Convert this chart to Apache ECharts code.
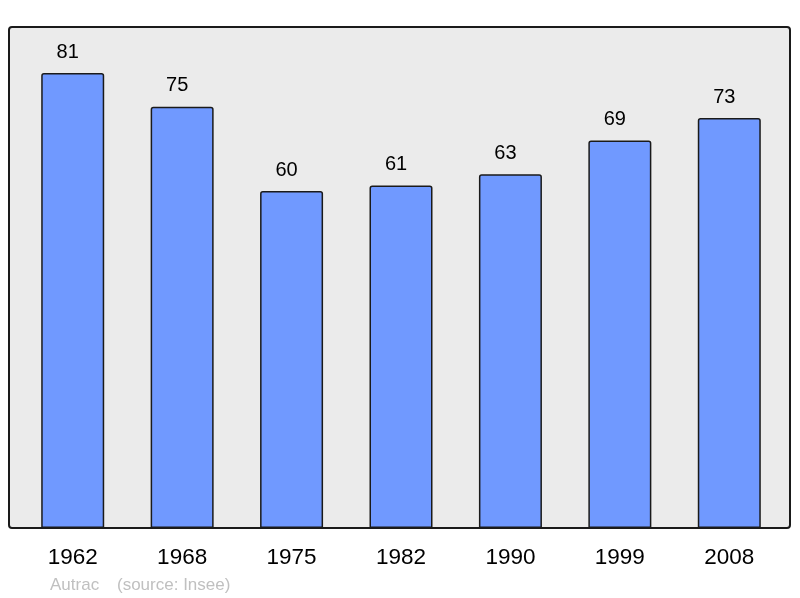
<!DOCTYPE html>
<html>
<head>
<meta charset="utf-8">
<script src="https://cdn.jsdelivr.net/npm/echarts@6/dist/echarts.min.js"></script>
<style>
  html, body { margin: 0; padding: 0; background: #ffffff; }
  #chart { width: 800px; height: 598px; }
</style>
</head>
<body>
<div id="chart"></div>
<script>
// data
var years = ['1962', '1968', '1975', '1982', '1990', '1999', '2008'];
var population = [81, 75, 60, 61, 63, 69, 73];

document.addEventListener("DOMContentLoaded", function() {
    var chart = echarts.init(document.getElementById('chart'));
    var option = {
        animation: false,
        textStyle: { fontFamily: 'Liberation Sans, Arial, sans-serif' },
        graphic: [
            {
                // frame of the plot area
                type: 'rect',
                z: -1,
                shape: { x: 9, y: 27, width: 781, height: 501, r: 3 },
                style: { fill: '#ebebeb', stroke: '#1a1a1a', lineWidth: 2 }
            },
            {
                type: 'text',
                left: 50,
                top: 577,
                style: {
                    text: 'Autrac',
                    fill: '#c0c0c0',
                    font: '17px Liberation Sans, Arial, sans-serif'
                }
            },
            {
                type: 'text',
                left: 117,
                top: 577,
                style: {
                    text: '(source: Insee)',
                    fill: '#c0c0c0',
                    font: '17px Liberation Sans, Arial, sans-serif'
                }
            }
        ],
        grid: {
            left: 18,
            right: 16,
            top: 27,
            bottom: 70
        },
        xAxis: {
            type: 'category',
            data: years,
            axisLine: { show: false },
            axisTick: { show: false },
            axisLabel: {
                color: '#000000',
                fontSize: 22.5,
                margin: 18
            }
        },
        yAxis: {
            type: 'value',
            min: 0,
            max: 89.2,
            show: false,
            splitLine: { show: false }
        },
        series: [
            {
                type: 'bar',
                data: population,
                barWidth: 63,
                itemStyle: {
                    color: '#7099ff',
                    borderColor: '#1a1a1a',
                    borderWidth: 1.5,
                    borderRadius: [2, 2, 0, 0]
                },
                label: {
                    show: true,
                    position: 'top',
                    distance: 11,
                    offset: [-5, 0],
                    color: '#000000',
                    fontSize: 20
                }
            }
        ]
    };
    chart.setOption(option);
});
</script>
</body>
</html>
